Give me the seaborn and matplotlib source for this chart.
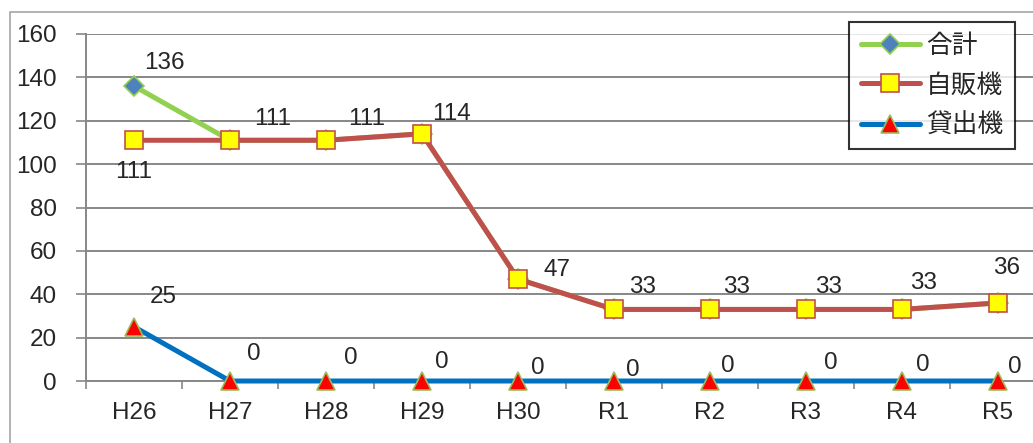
import matplotlib
matplotlib.use("Agg")
import matplotlib.pyplot as plt
import matplotlib.ticker as ticker
from matplotlib.patches import Rectangle
import seaborn as sns
import pandas as pd

YEARS = ["H26", "H27", "H28", "H29", "H30", "R1", "R2", "R3", "R4", "R5"]
TOTAL = [136, 111, 111, 114, 47, 33, 33, 33, 33, 36]  # 合計
VENDING = [111, 111, 111, 114, 47, 33, 33, 33, 33, 36]  # 自販機
LENDING = [25, 0, 0, 0, 0, 0, 0, 0, 0, 0]  # 貸出機

# label offsets in pixels (Excel moves them around a bit)
TOTAL_OFF = [(30, 23), (43, 21), (41, 21), (30, 20), (39, 9),
             (29, 22), (27, 22), (23, 22), (22, 26), (9, 35)]
LENDING_OFF = [(29, 30), (24, 27), (25, 23), (20, 19), (20, 13),
               (19, 11), (18, 15), (25, 18), (21, 16), (17, 14)]

FS = 17.5

sns.set_style("white")
plt.rcParams["font.family"] = ["Liberation Sans", "Noto Sans CJK JP"]
plt.rcParams["font.size"] = FS

W, H = 1033, 443
fig = plt.figure(figsize=(W / 100, H / 100), dpi=100)
ax = fig.add_axes([86 / W, 1 - 381 / H, 960 / W, (381 - 34) / H])

df = pd.DataFrame({"year": YEARS, "total": TOTAL, "vending": VENDING, "lending": LENDING})
x = list(range(len(YEARS)))

sns.lineplot(x=x, y=df["total"], ax=ax, color="#92D050", linewidth=3.6,
             marker="D", markersize=10, markerfacecolor="#4F81BD",
             markeredgecolor="#92D050", markeredgewidth=1.2, label="合計",
             clip_on=False, zorder=3)
sns.lineplot(x=x, y=df["vending"], ax=ax, color="#C0504D", linewidth=3.6,
             marker="s", markersize=12.5, markerfacecolor="#FFFF00",
             markeredgecolor="#C0504D", markeredgewidth=1.2, label="自販機",
             clip_on=False, zorder=4)
sns.lineplot(x=x, y=df["lending"], ax=ax, color="#0070C0", linewidth=3.6,
             marker="^", markersize=13, markerfacecolor="#FF0000",
             markeredgecolor="#9BBB59", markeredgewidth=1.2, label="貸出機",
             clip_on=False, zorder=5)

for i, v in enumerate(TOTAL):
    ax.annotate(str(v), (i, v), xytext=TOTAL_OFF[i], textcoords="offset pixels",
                ha="center", va="center", fontsize=FS)
ax.annotate(str(VENDING[0]), (0, VENDING[0]), xytext=(0, -32), textcoords="offset pixels",
            ha="center", va="center", fontsize=FS)
for i, v in enumerate(LENDING):
    ax.annotate(str(v), (i, v), xytext=LENDING_OFF[i], textcoords="offset pixels",
                ha="center", va="center", fontsize=FS)

ax.set_xlim(-0.5, len(YEARS) - 0.5)
ax.set_ylim(0, 160)
ax.yaxis.set_major_locator(ticker.MultipleLocator(20))
ax.grid(axis="y", color="#878787", linewidth=1.4)
ax.set_axisbelow(True)

ax.set_xticks([i - 0.5 for i in range(len(YEARS) + 1)])
ax.set_xticklabels([])
ax.set_xticks(x, minor=True)
ax.set_xticklabels(YEARS, minor=True)
ax.tick_params(axis="x", which="major", direction="out", length=6, width=1.2,
               color="#878787", bottom=True)
ax.tick_params(axis="x", which="minor", length=0, pad=15, labelsize=FS)
ax.tick_params(axis="y", direction="out", length=7, width=1.2, color="#878787",
               left=True, pad=14, labelsize=FS)
ax.set_xlabel("")
ax.set_ylabel("")

for s in ["top", "right"]:
    ax.spines[s].set_visible(False)
for s in ["left", "bottom"]:
    ax.spines[s].set_color("#878787")
    ax.spines[s].set_linewidth(1.4)

ax.get_legend().remove()
handles, labels = ax.get_legend_handles_labels()
leg = fig.legend(handles, labels, loc="upper left", bbox_to_anchor=(849 / W, 1 - 22 / H),
                 borderaxespad=0, frameon=True, fancybox=False, edgecolor="black",
                 fontsize=18.5, handlelength=2.3, borderpad=0.45, labelspacing=0.62,
                 handletextpad=0.25)
leg.get_frame().set_linewidth(1.5)

fig.patches.append(Rectangle((10 / W, -0.1), 1.2, 1.1 - 12 / H, transform=fig.transFigure,
                             fill=False, edgecolor="#A6A6A6", linewidth=1.2))

fig.savefig("out.png", dpi=100)
